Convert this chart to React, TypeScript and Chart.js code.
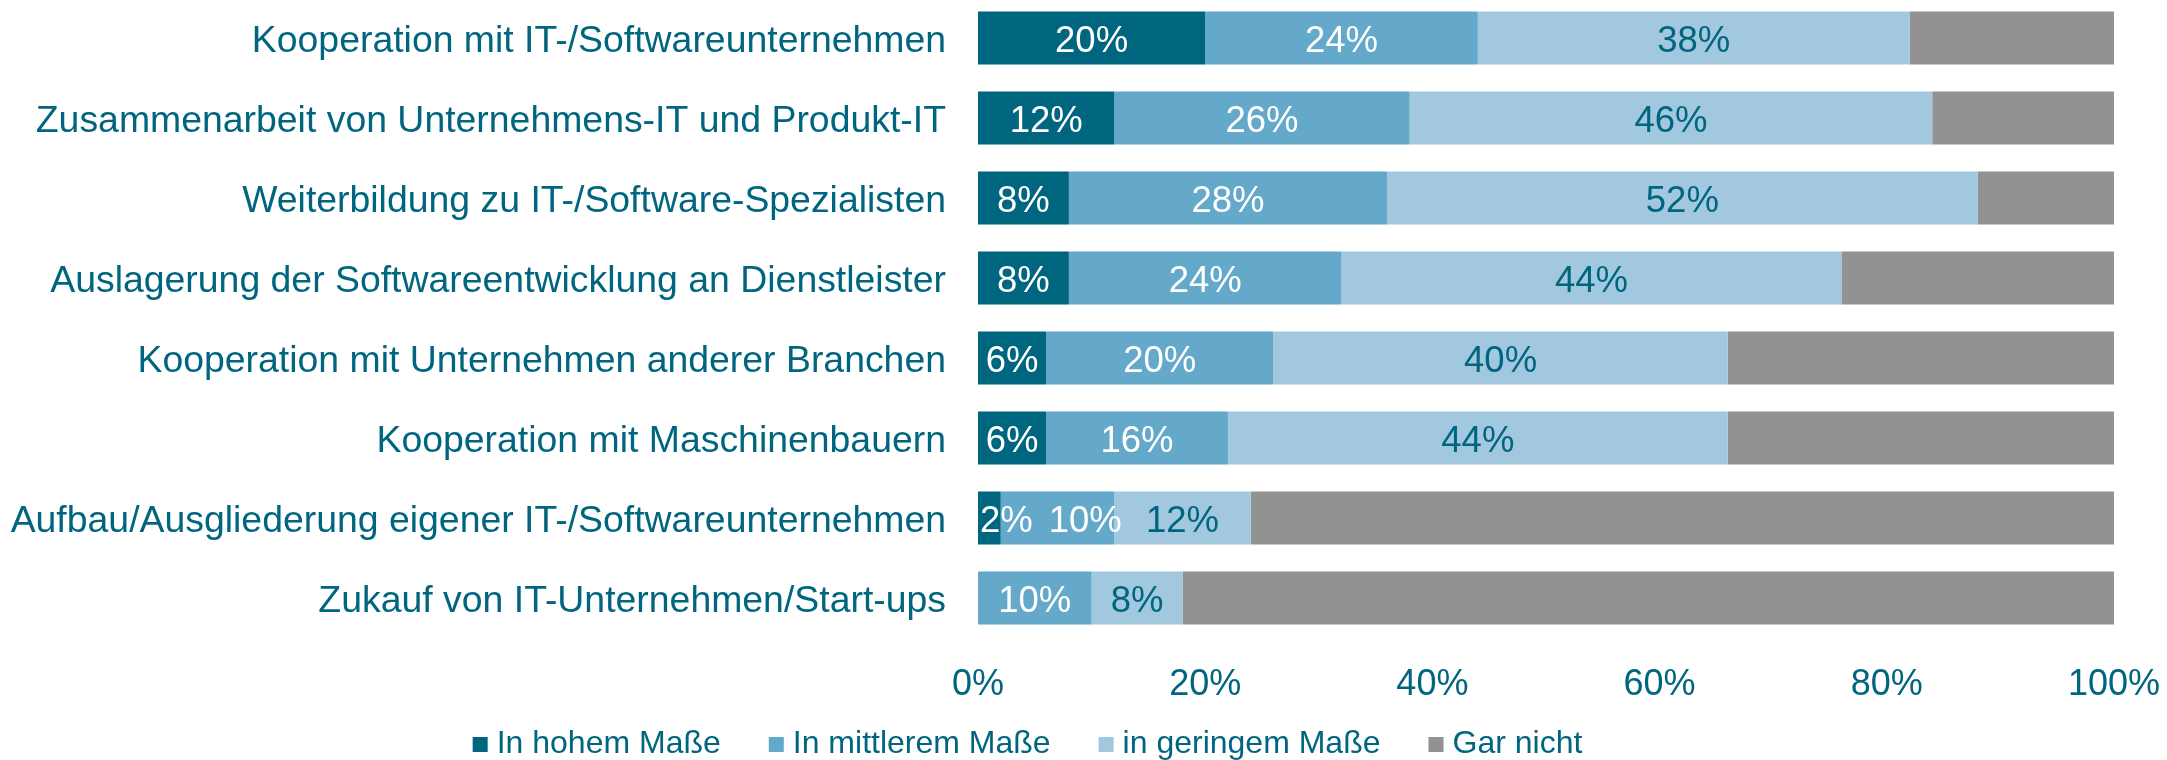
import React, { useEffect, useRef } from 'react';
import { Chart, registerables } from 'chart.js';

Chart.register(...registerables);

const categories = [
  'Kooperation mit IT-/Softwareunternehmen',
  'Zusammenarbeit von Unternehmens-IT und Produkt-IT',
  'Weiterbildung zu IT-/Software-Spezialisten',
  'Auslagerung der Softwareentwicklung an Dienstleister',
  'Kooperation mit Unternehmen anderer Branchen',
  'Kooperation mit Maschinenbauern',
  'Aufbau/Ausgliederung eigener IT-/Softwareunternehmen',
  'Zukauf von IT-Unternehmen/Start-ups',
];
const inHohemMasse = [20, 12, 8, 8, 6, 6, 2, 0];
const inMittleremMasse = [24, 26, 28, 24, 20, 16, 10, 10];
const inGeringemMasse = [38, 46, 52, 44, 40, 44, 12, 8];
const garNicht = [18, 16, 12, 24, 34, 34, 76, 82];
const seriesNames = ['In hohem Maße', 'In mittlerem Maße', 'in geringem Maße', 'Gar nicht'];
const xTickStep = 20;

const TEAL = '#00657F';
const colors = ['#00657F', '#65A9CA', '#A1C8DF', '#929292'];
const labelColors = ['#FFFFFF', '#FFFFFF', TEAL, null];
const FONT = "'Liberation Sans', Arial, sans-serif";

const dataLabelPlugin = {
  id: 'segLabels',
  afterDatasetsDraw(chart: any) {
    const ctx = chart.ctx;
    const area = chart.chartArea;
    ctx.save();
    ctx.font = `36.5px ${FONT}`;
    ctx.textAlign = 'left';
    ctx.textBaseline = 'middle';
    const n = chart.data.labels.length;
    for (let i = 0; i < n; i++) {
      let prevRight = -Infinity;
      for (let d = 0; d < chart.data.datasets.length; d++) {
        const col = labelColors[d];
        if (!col) continue;
        const v = chart.data.datasets[d].data[i];
        if (!v) continue;
        const el = chart.getDatasetMeta(d).data[i];
        const { x, base, y } = el.getProps(['x', 'base', 'y'], true);
        const text = `${v}%`;
        const w = ctx.measureText(text).width;
        let left = (x + base) / 2 - w / 2;
        left = Math.max(left, area.left + 2, prevRight + 16);
        ctx.fillStyle = col;
        ctx.fillText(text, left, y + 4);
        prevRight = left + w;
      }
    }
    ctx.restore();
  },
};

const legendPlugin = {
  id: 'customLegend',
  afterDraw(chart: any) {
    const ctx = chart.ctx;
    ctx.save();
    ctx.font = `32px ${FONT}`;
    ctx.textBaseline = 'alphabetic';
    ctx.textAlign = 'left';
    const box = 15;
    const gap = 9;
    const spacing = 48;
    const items = chart.data.datasets.map((ds: any) => ({
      label: ds.label,
      color: ds.backgroundColor,
      w: box + gap + ctx.measureText(ds.label).width,
    }));
    const total = items.reduce((s: number, it: any) => s + it.w, 0) + spacing * (items.length - 1);
    const center = 1027.5;
    let x = center - total / 2;
    const boxTop = 739;
    const baseline = 755;
    for (const it of items) {
      ctx.fillStyle = it.color;
      ctx.fillRect(x, boxTop, box, box);
      ctx.fillStyle = TEAL;
      ctx.fillText(it.label, x + box + gap, baseline);
      x += it.w + spacing;
    }
    ctx.restore();
  },
};

const zeroPad = (s: any) => {
  s.paddingTop = 0;
  s.paddingBottom = 0;
  s.paddingLeft = 0;
  s.paddingRight = 0;
};

export default function App() {
  const canvasRef = useRef<HTMLCanvasElement | null>(null);

  useEffect(() => {
    if (!canvasRef.current) return;
    const series = [inHohemMasse, inMittleremMasse, inGeringemMasse, garNicht];
    const chart = new Chart(canvasRef.current, {
      type: 'bar',
      data: {
        labels: categories,
        datasets: series.map((data, k) => ({
          label: seriesNames[k],
          data,
          backgroundColor: colors[k],
          borderWidth: 0,
          categoryPercentage: 1,
          barPercentage: 0.6625,
        })),
      },
      options: {
        indexAxis: 'y',
        animation: false,
        responsive: true,
        maintainAspectRatio: false,
        devicePixelRatio: 1,
        layout: { padding: { left: 0, right: 53, top: 0, bottom: 0 } },
        plugins: {
          legend: { display: false },
          tooltip: { enabled: false },
        },
        scales: {
          x: {
            stacked: true,
            min: 0,
            max: 100,
            grid: { display: false, drawTicks: false },
            border: { display: false },
            ticks: {
              stepSize: xTickStep,
              padding: 25,
              color: TEAL,
              font: { family: FONT, size: 36 },
              callback: (v: any) => `${v}%`,
              maxRotation: 0,
            },
            afterFit: (s: any) => {
              s.height = 122;
              zeroPad(s);
            },
          },
          y: {
            stacked: true,
            grid: { display: false, drawTicks: false },
            border: { display: false },
            ticks: {
              padding: 32,
              labelOffset: 4,
              color: TEAL,
              font: { family: FONT, size: 37.4 },
              autoSkip: false,
            },
            afterFit: (s: any) => {
              s.width = 978;
              zeroPad(s);
            },
          },
        },
      },
      plugins: [dataLabelPlugin, legendPlugin],
    });
    return () => chart.destroy();
  }, []);

  return (
    <div style={{ position: 'absolute', left: 0, top: -2, width: 2167, height: 762, background: '#fff' }}>
      <canvas ref={canvasRef} />
    </div>
  );
}
